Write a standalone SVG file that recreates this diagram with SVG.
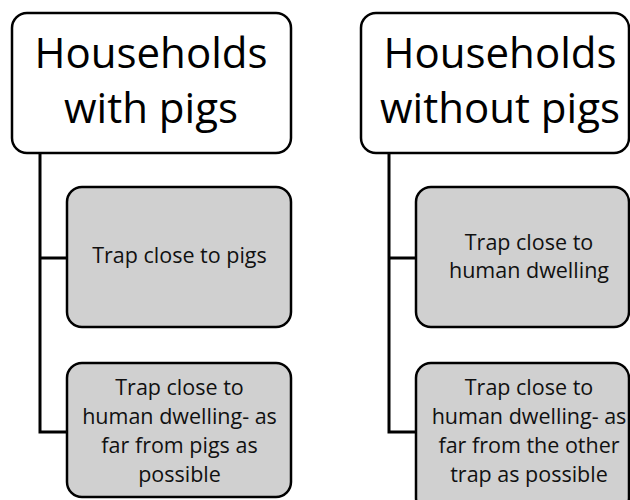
<svg xmlns="http://www.w3.org/2000/svg" width="630" height="500" viewBox="0 0 630 500">
<style>
.top{fill:#ffffff;stroke:#000;stroke-width:2.5}
.child{fill:#d0d0d0;stroke:#000;stroke-width:2.5}
.conn{fill:none;stroke:#000;stroke-width:3}
.tt{font-family:"Open Sans","Noto Sans",sans-serif;font-size:42px;fill:#000;text-anchor:middle}
.ct{font-family:"Open Sans","Noto Sans",sans-serif;font-size:21.5px;fill:#111;text-anchor:middle}
</style>
<rect width="630" height="500" fill="#ffffff"/>
<g id="connectors">
<path class="conn" d="M40,153 V432 H67 M40,258 H67"/>
<path class="conn" d="M389,153 V432 H416 M389,258 H416"/>
</g>
<g id="households-with-pigs">
<rect class="top" x="12" y="13" width="279" height="140" rx="15"/>
<text class="tt" x="151" y="68">Households</text>
<text class="tt" x="151" y="123">with pigs</text>
</g>
<g id="with-pigs-trap1">
<rect class="child" x="67" y="187" width="224" height="140" rx="15"/>
<text class="ct" x="179.5" y="263">Trap close to pigs</text>
</g>
<g id="with-pigs-trap2">
<rect class="child" x="67" y="363" width="224" height="134" rx="15"/>
<text class="ct" x="179.5" y="395">Trap close to</text>
<text class="ct" x="179.5" y="424">human dwelling- as</text>
<text class="ct" x="179.5" y="453">far from pigs as</text>
<text class="ct" x="179.5" y="482">possible</text>
</g>
<g id="households-without-pigs">
<rect class="top" x="361" y="13" width="268" height="140" rx="15"/>
<text class="tt" x="500" y="68">Households</text>
<text class="tt" x="500" y="123">without pigs</text>
</g>
<g id="without-pigs-trap1">
<rect class="child" x="416" y="187" width="213" height="140" rx="15"/>
<text class="ct" x="529" y="250">Trap close to</text>
<text class="ct" x="529" y="278">human dwelling</text>
</g>
<g id="without-pigs-trap2">
<rect class="child" x="416" y="363" width="213" height="150" rx="15"/>
<text class="ct" x="529" y="395">Trap close to</text>
<text class="ct" x="529" y="424">human dwelling- as</text>
<text class="ct" x="529" y="453">far from the other</text>
<text class="ct" x="529" y="482">trap as possible</text>
</g>
</svg>
